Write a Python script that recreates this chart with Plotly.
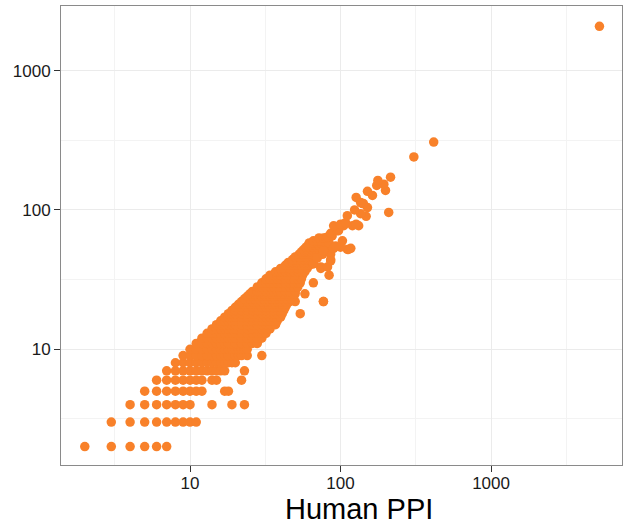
import plotly.graph_objects as go

# ---- data (Human PPI on x, counterpart PPI on y) ----
row_y = [2, 3, 4, 5, 6, 7, 8, 9, 10, 11, 12, 13, 14, 15, 16, 17, 18, 19, 20,
         21, 22, 23, 24, 25, 26, 28, 30, 32, 34, 36, 38, 40, 42, 44, 46, 48,
         50, 52, 54, 56, 58, 60, 63]
row_x = [
    [2, 3, 4, 5, 6, 7],
    [3, 4, 5, 6, 7, 8, 9, 10, 11],
    [4, 5, 6, 7, 8, 9, 10, 14, 19, 23],
    [5, 6, 7, 8, 9, 10, 11, 12, 17, 18],
    [6, 7, 8, 9, 10, 11, 12, 14, 15, 22],
    [7, 8, 9, 10, 11, 12, 13, 14, 15, 16, 17, 23],
    [8, 9, 10, 11, 12, 13, 14, 15, 16, 17, 18, 19, 20],
    [9, 10, 11, 12, 13, 14, 15, 16, 17, 18, 19, 20, 21, 22, 24, 30],
    [10, 11, 12, 13, 14, 15, 16, 17, 18, 19, 20, 21, 22, 23, 24],
    [11, 12, 13, 14, 15, 16, 17, 18, 19, 20, 22, 24, 26, 28],
    [12, 13, 14, 15, 16, 17, 18, 19, 20, 22, 24, 26, 28, 30],
    [13, 14, 15, 16, 17, 18, 19, 20, 22, 24, 26, 28, 30, 32],
    [14, 15, 16, 17, 18, 19, 20, 22, 24, 26, 28, 30, 32, 34],
    [15, 16, 17, 18, 19, 20, 22, 24, 26, 28, 30, 32, 34, 37],
    [16, 17, 18, 19, 20, 22, 24, 26, 28, 30, 32, 34, 36, 38],
    [17, 18, 19, 20, 22, 24, 26, 28, 30, 32, 34, 36, 38, 40],
    [18, 19, 20, 22, 24, 26, 28, 30, 32, 34, 36, 38, 41, 54],
    [19, 20, 22, 24, 26, 28, 30, 32, 34, 36, 38, 40, 42],
    [20, 22, 24, 26, 28, 30, 32, 34, 36, 38, 40, 43],
    [21, 23, 25, 27, 29, 31, 33, 35, 37, 39, 41, 44],
    [22, 24, 26, 28, 30, 32, 34, 36, 38, 40, 43, 46, 50, 77],
    [23, 25, 27, 29, 31, 33, 35, 37, 39, 41, 44, 47],
    [24, 26, 28, 30, 32, 34, 36, 38, 40, 42, 45, 48],
    [25, 27, 29, 31, 33, 35, 37, 39, 42, 45, 48, 50, 58],
    [26, 28, 30, 32, 34, 36, 38, 40, 43, 46, 50],
    [28, 30, 32, 34, 36, 38, 40, 43, 46, 49, 52],
    [30, 32, 34, 36, 38, 40, 43, 46, 49, 52, 54, 66],
    [32, 34, 36, 38, 40, 43, 46, 49, 52, 55],
    [34, 36, 38, 40, 43, 46, 49, 52, 56, 84],
    [37, 39, 41, 43, 46, 49, 52, 55, 58],
    [40, 42, 44, 46, 49, 52, 55, 60, 74],
    [43, 46, 49, 52, 55, 58, 62],
    [45, 48, 51, 54, 57, 60, 64, 66],
    [48, 51, 54, 57, 60, 63, 66, 86],
    [50, 53, 56, 59, 62, 65, 68],
    [53, 56, 59, 62, 65, 68, 70, 86],
    [55, 58, 61, 64, 68, 72],
    [57, 60, 64, 68, 72, 78, 111, 113],
    [59, 62, 66, 70, 74, 80, 100],
    [61, 64, 68, 72, 76, 82],
    [62, 66, 70, 74, 78, 84],
    [66, 70, 74, 103],
    [72, 77, 80],
]

sparse_x = [77, 74, 82, 66, 86, 70, 76, 77, 90, 117, 93, 82, 88, 86, 95, 97,
            90, 105, 120, 132, 100, 127, 108, 148, 111, 136, 209, 124, 151,
            140, 142, 136, 127, 163, 151, 199, 174, 194, 177, 215, 307, 416,
            5250]
sparse_y = [22, 39, 39, 41, 43, 45, 48, 51, 53, 53, 55, 64, 65, 68, 71, 71,
            77, 77, 77, 77, 79, 79, 81, 90, 91, 94, 96, 100, 104,
            111, 111, 113, 123, 127, 136, 138, 150, 153, 163, 172, 240, 307,
            2080]

x_tickvals = [10, 100, 1000]
x_ticktext = ["10", "100", "1000"]
y_tickvals = [10, 100, 1000]
y_ticktext = ["10", "100", "1000"]
minor_vals = [3.1623, 31.623, 316.23, 3162.3]
x_title = "Human PPI"

# build point table from the rows
human = []
other = []
for yv, xs in zip(row_y, row_x):
    for xv in xs:
        human.append(xv)
        other.append(yv)
human += sparse_x
other += sparse_y

ORANGE = "#F8812A"
FONT = "Liberation Sans, Arial, Helvetica, sans-serif"

fig = go.Figure()
fig.add_trace(go.Scatter(
    x=human, y=other, mode="markers",
    marker=dict(size=9.5, color=ORANGE, line=dict(width=0)),
    hoverinfo="x+y", showlegend=False,
))

axis_common = dict(
    type="log",
    showline=True, linecolor="#8a8a8a", linewidth=1, mirror=True,
    showgrid=True, gridcolor="#EBEBEB", gridwidth=1,
    zeroline=False,
    ticks="outside", ticklen=6, tickwidth=1, tickcolor="#333333",
    tickfont=dict(family=FONT, size=17, color="#1a1a1a"),
    minor=dict(tickvals=minor_vals, showgrid=True, gridcolor="#F3F3F3",
               gridwidth=1, ticks=""),
    automargin=False,
)

fig.update_xaxes(range=[0.143, 3.870], tickvals=x_tickvals, ticktext=x_ticktext,
                 ticklabelstandoff=-3, **axis_common)
fig.update_yaxes(range=[0.169, 3.464], tickvals=y_tickvals, ticktext=y_ticktext,
                 **axis_common)

fig.add_annotation(
    text=x_title, xref="paper", yref="paper", x=0.532, y=-0.0955,
    xanchor="center", yanchor="middle", showarrow=False,
    font=dict(family=FONT, size=29, color="#000000"),
)

fig.update_layout(
    width=624, height=524,
    margin=dict(l=61, r=2, t=6, b=59, pad=0),
    paper_bgcolor="white", plot_bgcolor="white",
    font=dict(family=FONT),
)

fig.write_html(
    "out.html",
    config={"displayModeBar": False},
    post_script="document.body.style.margin='0';document.body.style.padding='0';"
                "document.documentElement.style.overflow='hidden';",
)
